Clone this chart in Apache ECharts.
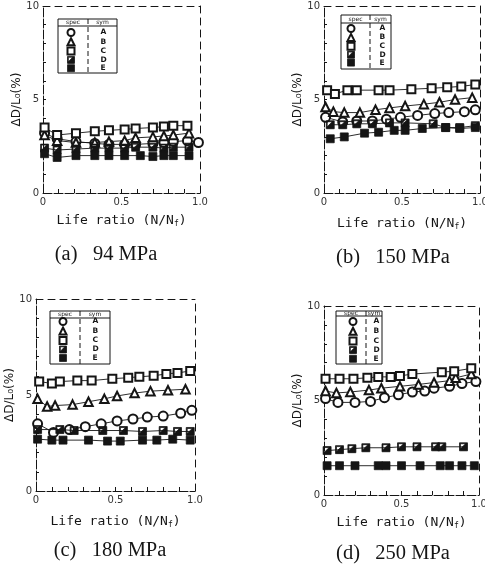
<!DOCTYPE html>
<html><head><meta charset="utf-8">
<script src="https://cdn.jsdelivr.net/npm/echarts@6/dist/echarts.min.js"></script>
<style>html,body{margin:0;padding:0;background:#fff}#c{width:485px;height:568px}</style>
</head><body><div id="c"></div><script>
// ---- data ----
const seriesNames = ['A', 'B', 'C', 'D', 'E'];
const legendHeader = ['spec', 'sym'];
const captions = ['(a)   94 MPa', '(b)   150 MPa', '(c)   180 MPa', '(d)   250 MPa'];
const xTickLabels = ['0', '0.5', '1.0'];
const yTickLabels = ['0', '5', '10'];

// (a) 94 MPa  [life ratio, dD/L0 %]
const a_A = [[0.01,3.2],[0.09,2.9],[0.21,2.75],[0.33,2.65],[0.42,2.6],[0.52,2.6],[0.59,2.6],[0.70,2.65],[0.77,2.7],[0.83,2.75],[0.92,2.8],[0.99,2.7]];
const a_B = [[0.01,3.1],[0.09,2.8],[0.21,2.7],[0.33,2.7],[0.42,2.75],[0.52,2.8],[0.59,2.95],[0.70,3.0],[0.77,3.05],[0.83,3.1],[0.93,3.2]];
const a_C = [[0.01,3.5],[0.09,3.1],[0.21,3.2],[0.33,3.3],[0.42,3.35],[0.52,3.4],[0.59,3.45],[0.70,3.5],[0.77,3.55],[0.83,3.6],[0.92,3.6]];
const a_D = [[0.01,2.4],[0.09,2.3],[0.21,2.35],[0.33,2.4],[0.42,2.4],[0.52,2.4],[0.59,2.45],[0.70,2.45],[0.77,2.4],[0.83,2.45],[0.93,2.45]];
const a_E = [[0.01,2.1],[0.09,1.9],[0.21,2.0],[0.33,2.0],[0.42,2.0],[0.52,2.0],[0.62,2.0],[0.70,1.95],[0.77,2.0],[0.83,2.0],[0.93,2.0]];
// (b) 150 MPa
const b_A = [[0.01,4.05],[0.12,3.8],[0.21,3.85],[0.31,3.85],[0.40,3.95],[0.49,4.05],[0.60,4.15],[0.71,4.25],[0.80,4.3],[0.90,4.35],[0.97,4.45]];
const b_B = [[0.01,4.6],[0.06,4.35],[0.13,4.3],[0.23,4.3],[0.33,4.45],[0.42,4.55],[0.52,4.65],[0.64,4.75],[0.74,4.85],[0.84,5.0],[0.95,5.1]];
const b_C = [[0.02,5.5],[0.07,5.3],[0.15,5.5],[0.21,5.5],[0.35,5.5],[0.42,5.5],[0.56,5.55],[0.69,5.6],[0.79,5.65],[0.88,5.7],[0.97,5.8]];
const b_D = [[0.04,3.65],[0.12,3.65],[0.21,3.7],[0.31,3.7],[0.42,3.75],[0.52,3.75],[0.70,3.7],[0.78,3.5],[0.87,3.5],[0.97,3.6]];
const b_E = [[0.04,2.9],[0.13,3.0],[0.26,3.2],[0.35,3.25],[0.45,3.35],[0.52,3.35],[0.63,3.45],[0.78,3.5],[0.87,3.45],[0.97,3.5]];
// (c) 180 MPa
const c_A = [[0.01,3.5],[0.11,3.05],[0.21,3.2],[0.31,3.35],[0.41,3.5],[0.51,3.65],[0.61,3.75],[0.70,3.85],[0.80,3.9],[0.91,4.05],[0.98,4.2]];
const c_B = [[0.01,4.8],[0.07,4.4],[0.12,4.45],[0.23,4.5],[0.33,4.65],[0.43,4.8],[0.51,4.95],[0.62,5.1],[0.72,5.2],[0.83,5.25],[0.94,5.3]];
const c_C = [[0.02,5.7],[0.10,5.6],[0.15,5.7],[0.26,5.75],[0.35,5.75],[0.48,5.85],[0.58,5.9],[0.65,5.95],[0.74,6.0],[0.82,6.1],[0.89,6.15],[0.97,6.25]];
const c_D = [[0.01,3.2],[0.15,3.2],[0.24,3.15],[0.42,3.15],[0.55,3.15],[0.67,3.1],[0.80,3.15],[0.89,3.1],[0.97,3.1]];
const c_E = [[0.01,2.7],[0.10,2.65],[0.17,2.65],[0.33,2.65],[0.45,2.6],[0.53,2.6],[0.67,2.65],[0.76,2.65],[0.86,2.7],[0.97,2.65]];
// (d) 250 MPa
const d_A = [[0.01,5.1],[0.09,4.9],[0.20,4.9],[0.30,4.95],[0.39,5.15],[0.48,5.3],[0.57,5.45],[0.65,5.5],[0.71,5.65],[0.81,5.75],[0.89,5.9],[0.98,6.0]];
const d_B = [[0.01,5.5],[0.08,5.4],[0.17,5.45],[0.29,5.55],[0.37,5.65],[0.49,5.75],[0.61,5.85],[0.71,5.95],[0.81,6.05],[0.85,6.2],[0.95,6.4]];
const d_C = [[0.01,6.15],[0.10,6.15],[0.19,6.15],[0.28,6.2],[0.35,6.25],[0.43,6.25],[0.49,6.3],[0.57,6.4],[0.76,6.5],[0.84,6.55],[0.95,6.7]];
const d_D = [[0.02,2.35],[0.10,2.4],[0.18,2.45],[0.27,2.5],[0.40,2.5],[0.50,2.55],[0.60,2.55],[0.72,2.55],[0.76,2.55],[0.90,2.55]];
const d_E = [[0.02,1.55],[0.10,1.55],[0.20,1.55],[0.35,1.55],[0.40,1.55],[0.50,1.55],[0.62,1.55],[0.75,1.55],[0.81,1.55],[0.89,1.55],[0.97,1.55]];

const panelData = [[a_A,a_B,a_C,a_D,a_E],[b_A,b_B,b_C,b_D,b_E],[c_A,c_B,c_C,c_D,c_E],[d_A,d_B,d_C,d_D,d_E]];

// ---- layout / style ----
const INK = '#151515';
const HALF = 'path://M0,0L10,0L10,10L0,10ZM1.2,1.2L1.2,8.8L8.8,8.8L8.8,1.2ZM7.5,1.2L8.8,1.2L8.8,8.8L1.2,8.8L1.2,7.5Z';
const symbols = ['emptyCircle', 'emptyTriangle', 'emptyRect', HALF, 'rect'];
const symSizes = [9, 8.5, 8, 8, 8];
const layouts = [
  {grid:{left:43, top:6, width:157, height:187}, yGap:19, xGap:20,
   leg:{x0:58, x1:117, y0:19, y1:73, div:88, hy:26, sx:70, lx:102, r0:32, dr:8.3}, cap:[106,255]},
  {grid:{left:324, top:6, width:156, height:187}, yGap:15, xGap:23,
   leg:{x0:341, x1:391, y0:15, y1:69, div:370, hy:23, sx:350, lx:381, r0:28, dr:7.9}, cap:[393,258]},
  {grid:{left:36, top:299, width:159, height:192}, yGap:19, xGap:23,
   leg:{x0:50, x1:110, y0:311, y1:364, div:80, hy:318, sx:62, lx:94, r0:321, dr:8.5}, cap:[110,551]},
  {grid:{left:324, top:306, width:155, height:189}, yGap:20, xGap:20,
   leg:{x0:336, x1:382, y0:311, y1:364, div:366, hy:316, sx:352, lx:375, r0:321, dr:8.7}, cap:[393,554]}
];

const grids = [], xAxes = [], yAxes = [], series = [], legends = [], graphics = [];
const near = (v, t) => Math.abs(v - t) < 1e-6;

layouts.forEach((L, p) => {
  grids.push(Object.assign({outerBoundsMode:'none', containLabel:false}, L.grid));
  xAxes.push({
    gridIndex:p, type:'value', min:0, max:1, interval:0.1,
    name:'Life ratio (N/N{s|f})', nameLocation:'middle', nameGap:L.xGap,
    nameTextStyle:{fontFamily:'DejaVu Sans Mono', fontSize:13, color:INK, lineHeight:15,
      rich:{s:{fontFamily:'DejaVu Sans Mono', fontSize:8, color:INK, verticalAlign:'bottom', lineHeight:15, padding:[5,0,0,0]}}},
    axisLine:{onZero:false, lineStyle:{color:INK, width:1, type:[9,2]}},
    axisTick:{inside:true, length:4, lineStyle:{color:INK}},
    splitLine:{show:false},
    axisLabel:{fontSize:10, color:'#333', margin:4, fontFamily:'DejaVu Sans',
      formatter:v => near(v,0) ? xTickLabels[0] : near(v,0.5) ? xTickLabels[1] : near(v,1) ? xTickLabels[2] : ''}
  });
  xAxes.push({
    gridIndex:p, type:'value', min:0, max:1, position:'top',
    axisLine:{show:true, onZero:false, lineStyle:{color:INK, width:1, type:[7,5]}},
    axisTick:{show:false}, axisLabel:{show:false}, splitLine:{show:false}
  });
  yAxes.push({
    gridIndex:p, type:'value', min:0, max:10, interval:1,
    name:'ΔD/L₀(%)', nameLocation:'middle', nameGap:L.yGap,
    nameTextStyle:{fontFamily:'DejaVu Sans', fontSize:12, color:INK},
    axisLine:{show:true, onZero:false, lineStyle:{color:INK, width:1, type:[9,2]}},
    axisTick:{inside:true, length:3, lineStyle:{color:INK}},
    splitLine:{show:false},
    axisLabel:{fontSize:10, color:'#333', margin:4, fontFamily:'DejaVu Sans',
      formatter:v => v === 0 ? yTickLabels[0] : v === 5 ? yTickLabels[1] : v === 10 ? yTickLabels[2] : ''}
  });
  yAxes.push({
    gridIndex:p, type:'value', min:0, max:10, position:'right',
    axisLine:{show:true, onZero:false, lineStyle:{color:INK, width:1, type:[7,5]}},
    axisTick:{show:false}, axisLabel:{show:false}, splitLine:{show:false}
  });
  panelData[p].forEach((data, i) => {
    series.push({
      type:'line', name:seriesNames[i], xAxisIndex:p*2, yAxisIndex:p*2, data:data,
      symbol:symbols[i], symbolSize:symSizes[i], showSymbol:true, showAllSymbol:true,
      lineStyle:{color:INK, width:0.9}, itemStyle:{color:INK, borderColor:INK, borderWidth:0.75},
      z:2+i, silent:true, animation:false
    });
  });
  const g = L.leg;
  legends.push({
    orient:'vertical', left:g.sx - 3.5, top:g.r0 - 4, padding:0,
    itemWidth:7, itemHeight:7, itemGap:g.dr - 8, selectedMode:false,
    data:seriesNames.map((n, i) => ({name:n, icon:symbols[i]})),
    itemStyle:{borderWidth:0.75},
    textStyle:{fontSize:7.5, fontWeight:'bold', fontFamily:'DejaVu Sans', color:INK, lineHeight:8,
      padding:[0,0,0,g.lx - g.sx - 11]}
  });
  graphics.push({type:'rect', shape:{x:g.x0, y:g.y0, width:g.x1-g.x0, height:g.y1-g.y0},
    style:{fill:'none', stroke:INK, lineWidth:1}, z:10});
  graphics.push({type:'line', shape:{x1:g.x0, y1:g.hy, x2:g.x1, y2:g.hy}, style:{stroke:INK, lineWidth:1}, z:10});
  graphics.push({type:'line', shape:{x1:g.div, y1:g.y0, x2:g.div, y2:g.y1}, style:{stroke:INK, lineWidth:1, lineDash:[5,3]}, z:10});
  graphics.push({type:'text', x:(g.x0+g.div)/2, y:(g.y0+g.hy)/2, z:10,
    style:{text:legendHeader[0], fontSize:6, fontFamily:'DejaVu Sans', fill:INK, align:'center', verticalAlign:'middle'}});
  graphics.push({type:'text', x:(g.div+g.x1)/2, y:(g.y0+g.hy)/2, z:10,
    style:{text:legendHeader[1], fontSize:6, fontFamily:'DejaVu Sans', fill:INK, align:'center', verticalAlign:'middle'}});
  graphics.push({type:'text', x:L.cap[0], y:L.cap[1], z:10,
    style:{text:captions[p], fontSize:20.5, fontFamily:'Liberation Serif', fill:INK, align:'center', verticalAlign:'middle'}});
});

const chart = echarts.init(document.getElementById('c'), null, {renderer:'canvas'});
chart.setOption({
  backgroundColor:'#fff', animation:false,
  grid:grids, xAxis:xAxes, yAxis:yAxes, series:series, legend:legends, graphic:graphics
});
</script></body></html>
